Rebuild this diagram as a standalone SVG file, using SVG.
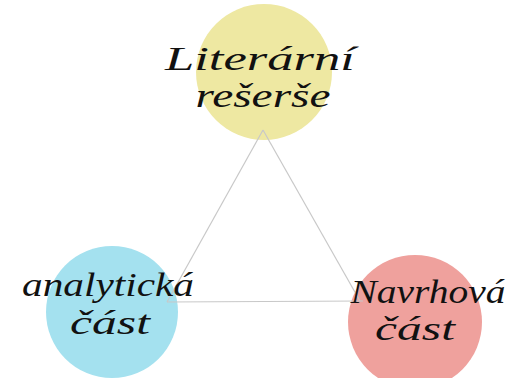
<svg xmlns="http://www.w3.org/2000/svg" width="509" height="378" viewBox="0 0 509 378">
<style>
.lbl{font-family:"Liberation Serif","DejaVu Serif",serif;font-style:italic;font-size:34px;fill:#111;text-anchor:middle}
.edge{stroke:#c8c8c8;stroke-width:1.2;fill:none}
</style>
<rect width="509" height="378" fill="#ffffff"/>
<g id="node-literarni">
<circle cx="264" cy="72" r="68" fill="#EEE8A2"/>
</g>
<g id="node-analyticka">
<circle cx="112" cy="312" r="66" fill="#A4E1EF"/>
</g>
<g id="node-navrhova">
<circle cx="415" cy="322" r="67" fill="#EFA19D"/>
</g>
<g id="connectors">
<line class="edge" x1="263" y1="130" x2="167" y2="302"/>
<line class="edge" x1="263" y1="130" x2="360" y2="301"/>
<line class="edge" x1="167" y1="302" x2="363" y2="301"/>
</g>
<g id="labels">
<text class="lbl" x="260" y="70" textLength="190" lengthAdjust="spacingAndGlyphs">Literární</text>
<text class="lbl" x="263" y="107" textLength="135" lengthAdjust="spacingAndGlyphs">rešerše</text>
<text class="lbl" x="108" y="296" textLength="172" lengthAdjust="spacingAndGlyphs">analytická</text>
<text class="lbl" x="110" y="334" textLength="80" lengthAdjust="spacingAndGlyphs">část</text>
<text class="lbl" x="428" y="303" textLength="155" lengthAdjust="spacingAndGlyphs">Navrhová</text>
<text class="lbl" x="415" y="340" textLength="80" lengthAdjust="spacingAndGlyphs">část</text>
</g>
</svg>
